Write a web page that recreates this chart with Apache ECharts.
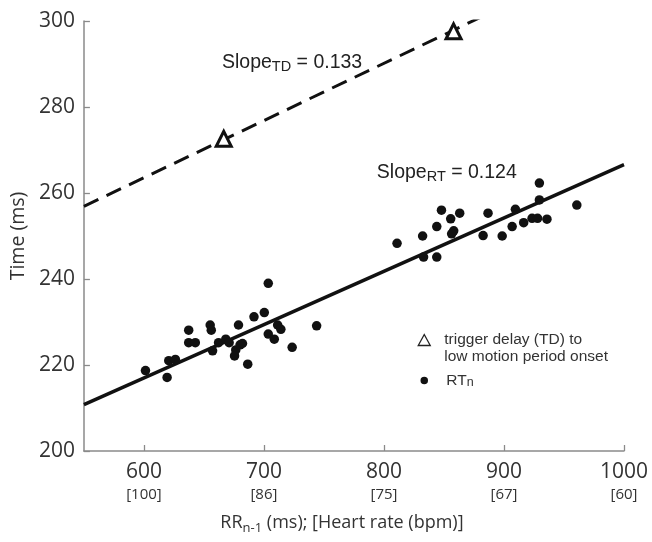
<!DOCTYPE html>
<html><head><meta charset="utf-8">
<script src="https://cdn.jsdelivr.net/npm/echarts@6/dist/echarts.min.js"></script>
<style>html,body{margin:0;padding:0;background:#fff}#c{width:652px;height:542px}</style>
</head><body><div id="c"></div>
<script>
// RR(n-1) in ms and RT(n) in ms
const rrValues = [601.3, 619.3, 620.7, 626.2, 637.3, 637.3, 642.8, 655.2, 656.1, 657.2,
  662.2, 668.2, 671.0, 678.8, 676.5, 680.1, 682.1, 675.5, 686.5, 691.7,
  700.3, 703.6, 703.6, 708.6, 711.4, 714.1, 723.5, 743.9,
  810.9, 832.2, 844.0, 847.9, 855.6, 863.1, 858.1, 856.4, 833.0, 844.0,
  882.6, 886.7, 898.5, 906.8, 909.5, 916.4, 923.4, 928.0, 929.5, 929.5, 935.8, 960.7];
const rtValues = [218.7, 217.1, 221.0, 221.3, 228.1, 225.2, 225.2, 229.3, 228.1, 223.3,
  225.2, 226.0, 225.2, 229.3, 223.5, 224.7, 225.0, 222.1, 220.2, 231.2,
  232.2, 239.0, 227.2, 226.0, 229.3, 228.3, 224.1, 229.1,
  248.3, 250.0, 252.2, 256.0, 254.0, 255.3, 251.2, 250.5, 245.1, 245.1,
  250.1, 255.3, 250.0, 252.2, 256.2, 253.1, 254.1, 254.1, 262.3, 258.4, 253.9, 257.2];
// trigger delay points
const tdRR = [666.5, 858.0];
const tdTime = [272.6, 297.6];
// fitted lines (end points)
const tdFitRR = [550, 880];
const tdFitTime = [256.9, 300.8];
const rtFitRR = [550, 1000];
const rtFitTime = [210.8, 266.6];
// axis ticks
const xTicks = [600, 700, 800, 900, 1000];
const hrLabels = ['100', '86', '75', '67', '60'];
const slopeTD = '0.133';
const slopeRT = '0.124';

const zip = (a, b) => a.map((v, i) => [v, b[i]]);
const chart = echarts.init(document.getElementById('c'), null, {renderer: 'canvas'});
const tickFont = 'Open Sans';
const txtFont = 'Liberation Sans';
const axisGray = '#8a8a8a';
const slopeRich = {
  m: {fontFamily: txtFont, fontSize: 19.5, color: '#222', lineHeight: 24},
  s: {fontFamily: txtFont, fontSize: 14.5, color: '#222', verticalAlign: 'bottom', padding: [10, 0, 0, 0], lineHeight: 24}
};

chart.setOption({
  animation: false,
  backgroundColor: '#fff',
  grid: {left: 81, right: 28, top: 21, bottom: 91},
  xAxis: {
    type: 'value', min: 550, max: 1000,
    splitLine: {show: false},
    axisLine: {lineStyle: {color: axisGray, width: 1.5}},
    axisTick: {inside: true, length: 6, customValues: xTicks, lineStyle: {color: axisGray, width: 1.3}},
    axisLabel: {
      customValues: xTicks, margin: 8,
      formatter: v => '{a|' + v + '}\n{b|[' + hrLabels[xTicks.indexOf(v)] + ']}',
      rich: {
        a: {fontFamily: tickFont, fontSize: 21, color: '#333', lineHeight: 26},
        b: {fontFamily: tickFont, fontSize: 15, color: '#333', lineHeight: 19}
      }
    },
    name: '{m|RR}{s|n-1}{m| (ms); [Heart rate (bpm)]}',
    nameLocation: 'middle', nameGap: 60,
    nameTextStyle: {
      padding: [0, 24, 0, 0],
      rich: {
        m: {fontFamily: tickFont, fontSize: 18, color: '#333', lineHeight: 24},
        s: {fontFamily: tickFont, fontSize: 13, color: '#333', verticalAlign: 'bottom', padding: [10, 0, 0, 0], lineHeight: 24}
      }
    }
  },
  yAxis: {
    type: 'value', min: 200, max: 300, interval: 20,
    splitLine: {show: false},
    axisLine: {show: true, lineStyle: {color: axisGray, width: 1.5}},
    axisTick: {show: true, inside: true, length: 6, lineStyle: {color: axisGray, width: 1.3}},
    axisLabel: {fontFamily: tickFont, fontSize: 21, color: '#333', margin: 9},
    name: 'Time (ms)', nameLocation: 'middle', nameGap: 47,
    nameTextStyle: {fontFamily: tickFont, fontSize: 19.5, color: '#333'}
  },
  legend: {
    orient: 'vertical', left: 412, top: 327, itemGap: 3,
    itemWidth: 12, itemHeight: 11,
    data: [
      {name: 'TD', icon: 'triangle', itemStyle: {color: '#fff', borderColor: '#222', borderWidth: 1.3, opacity: 1},
       textStyle: {padding: [17, 0, 0, 9]}},
      {name: 'RTn', icon: 'circle', itemStyle: {color: '#111', borderColor: '#fff', borderWidth: 3.5, opacity: 1},
       textStyle: {padding: [0, 0, 0, 11]}}
    ],
    formatter: n => n === 'TD'
      ? '{a|trigger delay (TD) to}\n{a|low motion period onset}'
      : '{a|RT}{s|n}',
    textStyle: {
      rich: {
        a: {fontFamily: txtFont, fontSize: 15.5, color: '#333', lineHeight: 17},
        s: {fontFamily: txtFont, fontSize: 12.5, color: '#333', verticalAlign: 'bottom', padding: [8, 0, 0, 0], lineHeight: 17}
      }
    }
  },
  series: [
    {
      name: 'TDfit', type: 'line', data: zip(tdFitRR, tdFitTime), symbol: 'none',
      lineStyle: {color: '#111', width: 3, type: [16, 9]}, z: 2, silent: true,
      markPoint: {
        symbol: 'circle', symbolSize: 0.1,
        label: {show: true, position: 'right', distance: 0,
          formatter: '{m|Slope}{s|TD}{m| = ' + slopeTD + '}', rich: slopeRich},
        data: [{coord: [665, 290.4]}]
      }
    },
    {
      name: 'RTfit', type: 'line', data: zip(rtFitRR, rtFitTime), symbol: 'none',
      lineStyle: {color: '#111', width: 3.5}, z: 2, silent: true,
      markPoint: {
        symbol: 'circle', symbolSize: 0.1,
        label: {show: true, position: 'right', distance: 0,
          formatter: '{m|Slope}{s|RT}{m| = ' + slopeRT + '}', rich: slopeRich},
        data: [{coord: [794, 264.8]}]
      }
    },
    {
      name: 'RTn', type: 'scatter', data: zip(rrValues, rtValues),
      symbol: 'circle', symbolSize: 9.5, itemStyle: {color: '#111', opacity: 1}, z: 3
    },
    {
      name: 'TD', type: 'scatter', data: zip(tdRR, tdTime),
      symbol: 'triangle', symbolSize: 15,
      itemStyle: {color: '#fff', borderColor: '#111', borderWidth: 3, opacity: 1}, z: 4
    }
  ]
});
</script></body></html>
